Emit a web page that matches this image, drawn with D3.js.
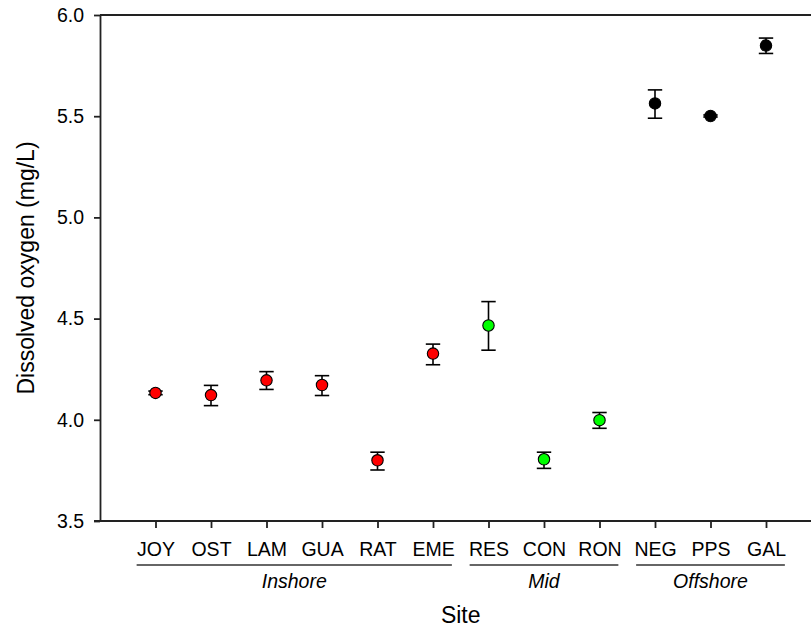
<!DOCTYPE html>
<html>
<head>
<meta charset="utf-8">
<script src="https://cdn.jsdelivr.net/npm/d3@7"></script>
<style>
  html, body { margin: 0; padding: 0; background: #fff; }
  svg { display: block; font-family: Arial, "Liberation Sans", sans-serif; }
</style>
</head>
<body>
<svg id="chart" width="811" height="629"></svg>
<script>
// Dissolved oxygen by site (mean with error range)
const sites = ["JOY", "OST", "LAM", "GUA", "RAT", "EME", "RES", "CON", "RON", "NEG", "PPS", "GAL"];
const means = [4.133, 4.122, 4.195, 4.172, 3.800, 4.327, 4.466, 3.805, 3.998, 5.563, 5.501, 5.849];
const errLow = [4.124, 4.070, 4.150, 4.120, 3.752, 4.272, 4.344, 3.760, 3.958, 5.490, 5.496, 5.810];
const errHigh = [4.142, 4.170, 4.238, 4.218, 3.840, 4.374, 4.584, 3.840, 4.036, 5.630, 5.506, 5.886];
const zones = ["Inshore", "Inshore", "Inshore", "Inshore", "Inshore", "Inshore", "Mid", "Mid", "Mid", "Offshore", "Offshore", "Offshore"];
const zoneNames = ["Inshore", "Mid", "Offshore"];
const zoneColors = ["#ff0000", "#00ff00", "#000000"];
const yTicks = [3.5, 4.0, 4.5, 5.0, 5.5, 6.0];

const svg = d3.select("#chart");
const plotLeft = 100, plotRight = 821.5, plotTop = 15, plotBottom = 521;

const x = d3.scalePoint().domain(sites).range([plotLeft, plotRight]).padding(1);
const y = d3.scaleLinear().domain([3.5, 6.0]).range([plotBottom, plotTop]);
const color = d3.scaleOrdinal().domain(zoneNames).range(zoneColors);

const axisColor = "#222";
const axisWidth = 1.8;
const fontFam = "Arial, 'Liberation Sans', sans-serif";
const tickFont = 19.5;

// Frame: top and right edges
svg.append("line").attr("x1", plotLeft).attr("x2", plotRight).attr("y1", plotTop).attr("y2", plotTop)
  .attr("stroke", axisColor).attr("stroke-width", axisWidth);
svg.append("line").attr("x1", plotRight).attr("x2", plotRight).attr("y1", plotTop).attr("y2", plotBottom)
  .attr("stroke", axisColor).attr("stroke-width", axisWidth);

// Y axis
const yAxis = svg.append("g").attr("transform", `translate(${plotLeft},0)`)
  .call(d3.axisLeft(y).tickValues(yTicks).tickFormat(d3.format(".1f")).tickSize(6).tickSizeOuter(0).tickPadding(10));
yAxis.select(".domain").attr("stroke", axisColor).attr("stroke-width", axisWidth);
yAxis.selectAll(".tick line").attr("stroke", axisColor).attr("stroke-width", axisWidth);
yAxis.selectAll(".tick text").attr("font-size", tickFont).attr("fill", "#000").attr("font-family", fontFam);

// X axis
const xAxis = svg.append("g").attr("transform", `translate(0,${plotBottom})`)
  .call(d3.axisBottom(x).tickSize(7).tickSizeOuter(0).tickPadding(14));
xAxis.select(".domain").attr("stroke", axisColor).attr("stroke-width", axisWidth)
  .attr("d", `M${plotLeft - 6},0H${plotRight}`);
xAxis.selectAll(".tick line").attr("stroke", axisColor).attr("stroke-width", axisWidth);
xAxis.selectAll(".tick text").attr("font-size", tickFont).attr("fill", "#000").attr("font-family", fontFam);

// Zone brackets under the site labels
const step = x.step();
zoneNames.forEach(z => {
  const members = sites.filter((s, i) => zones[i] === z);
  const x0 = x(members[0]) - step * 0.34;
  const x1 = x(members[members.length - 1]) + step * 0.34;
  svg.append("line").attr("x1", x0).attr("x2", x1).attr("y1", 565).attr("y2", 565)
    .attr("stroke", "#666").attr("stroke-width", 1.8);
  svg.append("text").attr("x", (x0 + x1) / 2).attr("y", 588)
    .attr("text-anchor", "middle").attr("font-size", tickFont).attr("font-style", "italic")
    .text(z);
});

// Axis titles
svg.append("text").attr("x", (plotLeft + plotRight) / 2).attr("y", 623)
  .attr("text-anchor", "middle").attr("font-size", 23).text("Site");
svg.append("text").attr("transform", `translate(34,${(plotTop + plotBottom) / 2}) rotate(-90)`)
  .attr("text-anchor", "middle").attr("font-size", 23).text("Dissolved oxygen (mg/L)");

// Error bars
const capHalf = 7.2;
const g = svg.append("g");
sites.forEach((s, i) => {
  const cx = x(s);
  g.append("line").attr("x1", cx).attr("x2", cx).attr("y1", y(errLow[i])).attr("y2", y(errHigh[i]))
    .attr("stroke", "#000").attr("stroke-width", 1.6);
  [errLow[i], errHigh[i]].forEach(v => {
    g.append("line").attr("x1", cx - capHalf).attr("x2", cx + capHalf).attr("y1", y(v)).attr("y2", y(v))
      .attr("stroke", "#000").attr("stroke-width", 1.6);
  });
});

// Mean markers
g.selectAll("circle").data(sites).join("circle")
  .attr("cx", d => x(d))
  .attr("cy", (d, i) => y(means[i]))
  .attr("r", 5.7)
  .attr("fill", (d, i) => color(zones[i]))
  .attr("stroke", "#000").attr("stroke-width", 1.1);
</script>
</body>
</html>
